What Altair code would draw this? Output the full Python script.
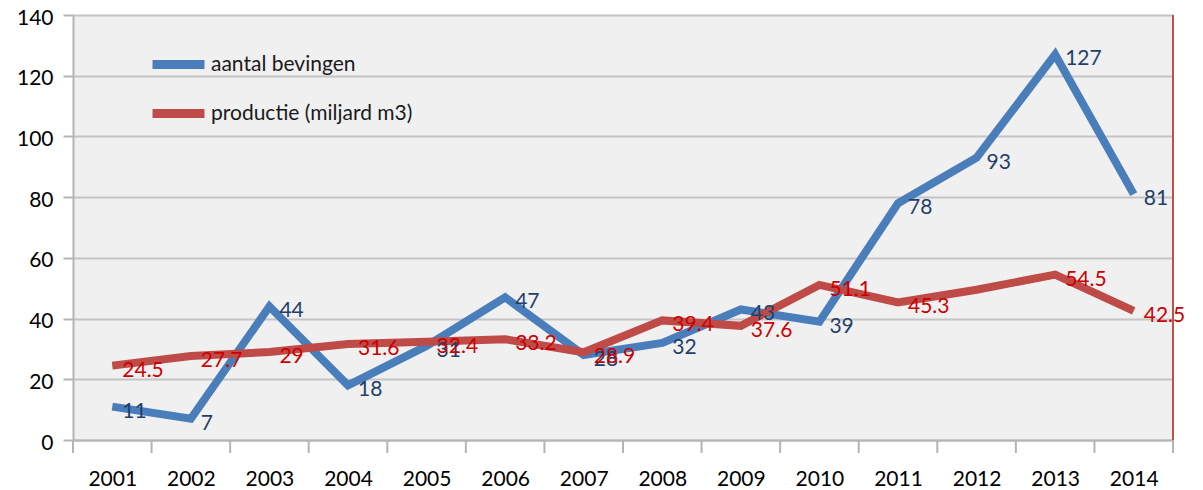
import altair as alt
import pandas as pd

years = list(range(2001, 2015))
bevingen = [11, 7, 44, 18, 31, 47, 28, 32, 43, 39, 78, 93, 127, 81]
productie = [24.5, 27.7, 29, 31.6, 32.4, 33.2, 28.9, 39.4, 37.6, 51.1, 45.3, 49.5, 54.5, 42.5]
bevingen_labels = ["11", "7", "44", "18", "31", "47", "28", "32", "43", "39", "78", "93", "127", "81"]
productie_labels = ["24.5", "27.7", "29", "31.6", "32.4", "33.2", "28.9", "39.4", "37.6", "51.1", "45.3", "", "54.5", "42.5"]
series_names = ["aantal bevingen", "productie (miljard m3)"]
boundaries = [2000.5 + i for i in range(15)]

W, H = 1100, 425
FONT = "Lato"
BLUE = "#4a7ebb"
RED = "#be4b48"

rows = []
for y, v, l in zip(years, bevingen, bevingen_labels):
    rows.append({"jaar": y, "waarde": v, "label": l, "serie": series_names[0]})
for y, v, l in zip(years, productie, productie_labels):
    rows.append({"jaar": y, "waarde": v, "label": l, "serie": series_names[1]})
df = pd.DataFrame(rows)
bdf = pd.DataFrame({"b": boundaries})

xscale = alt.Scale(domain=[2000.5, 2014.5], nice=False, zero=False)
yscale = alt.Scale(domain=[0, 140], nice=False)

x_enc = alt.X("jaar:Q", scale=xscale,
              axis=alt.Axis(values=years, format="d", ticks=False, grid=False,
                            labelFontSize=21, labelFont=FONT, labelColor="#000000",
                            labelPadding=28, domainColor="#b4b4b4", domainWidth=2,
                            title=None))
y_enc = alt.Y("waarde:Q", scale=yscale,
              axis=alt.Axis(values=list(range(0, 141, 20)), grid=True,
                            gridColor="#c4c4c4", gridWidth=2,
                            tickColor="#b4b4b4", tickSize=10, tickWidth=2,
                            domainColor="#b4b4b4", domainWidth=2,
                            labelFontSize=21, labelFont=FONT, labelColor="#000000",
                            labelPadding=10, labelOffset=3, title=None))

color = alt.Color("serie:N",
                  scale=alt.Scale(domain=series_names, range=[BLUE, RED]),
                  legend=alt.Legend(orient="none", legendX=75, legendY=19,
                                    symbolType="stroke", symbolStrokeWidth=9,
                                    symbolSize=2700, labelFontSize=21,
                                    labelFont=FONT, labelColor="#1a1a1a",
                                    labelOffset=2, rowPadding=-12, padding=0,
                                    labelLimit=0, title=None))

lines = alt.Chart(df).mark_line(strokeWidth=8).encode(
    x=x_enc, y=y_enc, color=color,
    order=alt.Order("jaar:Q"),
)

labels = alt.Chart(df).mark_text(align="left", baseline="middle", dx=10, dy=5,
                                 fontSize=21, font=FONT).encode(
    x=alt.X("jaar:Q", scale=xscale),
    y=alt.Y("waarde:Q", scale=yscale),
    text="label:N",
    color=alt.Color("serie:N",
                    scale=alt.Scale(domain=series_names, range=["#1f3f6b", "#cc0000"]),
                    legend=None),
)

xticks = alt.Chart(bdf).mark_rule(color="#b4b4b4", strokeWidth=2).encode(
    x=alt.X("b:Q", scale=xscale),
    y=alt.value(H),
    y2=alt.value(H + 13),
)

border = alt.Chart(bdf).mark_rule(color="#c0504d", strokeWidth=1).encode(
    x=alt.value(W),
    y=alt.value(0),
    y2=alt.value(H),
)

chart = alt.layer(lines, labels, xticks, border).resolve_scale(color="independent").properties(
    width=W, height=H,
    autosize=alt.AutoSizeParams(type="none"),
    padding={"left": 65, "top": 7, "right": 22, "bottom": 50},
    background="#ffffff",
).configure_view(fill="#f0f0f0", stroke="transparent")

chart.save("out.html", embed_options={"renderer": "svg", "actions": False})
